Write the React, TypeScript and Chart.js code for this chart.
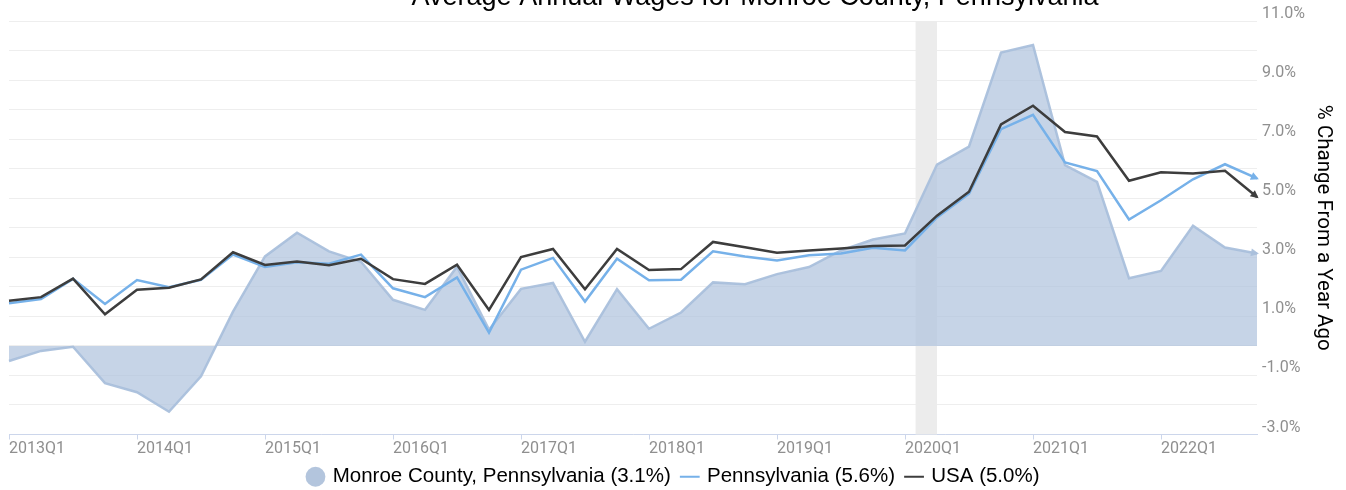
import React, { useEffect, useRef } from 'react';
import { Chart, registerables } from 'chart.js';

Chart.register(...registerables);

const chartTitle = 'Average Annual Wages for Monroe County, Pennsylvania';
const yAxisTitle = '% Change From a Year Ago';

const quarters = [
  '2013Q1', '2013Q2', '2013Q3', '2013Q4',
  '2014Q1', '2014Q2', '2014Q3', '2014Q4',
  '2015Q1', '2015Q2', '2015Q3', '2015Q4',
  '2016Q1', '2016Q2', '2016Q3', '2016Q4',
  '2017Q1', '2017Q2', '2017Q3', '2017Q4',
  '2018Q1', '2018Q2', '2018Q3', '2018Q4',
  '2019Q1', '2019Q2', '2019Q3', '2019Q4',
  '2020Q1', '2020Q2', '2020Q3', '2020Q4',
  '2021Q1', '2021Q2', '2021Q3', '2021Q4',
  '2022Q1', '2022Q2', '2022Q3', '2022Q4',
];

const monroe = [
  -0.51, -0.17, -0.03, -1.26, -1.57, -2.23, -1.03, 1.16,
  3.03, 3.83, 3.2, 2.85, 1.56, 1.22, 2.68, 0.55,
  1.93, 2.13, 0.14, 1.92, 0.58, 1.13, 2.15, 2.09,
  2.43, 2.67, 3.23, 3.6, 3.81, 6.14, 6.75, 9.93,
  10.19, 6.12, 5.55, 2.29, 2.54, 4.07, 3.33, 3.13,
];

const pennsylvania = [
  1.44, 1.59, 2.27, 1.42, 2.23, 1.99, 2.24, 3.09,
  2.67, 2.83, 2.78, 3.09, 1.95, 1.65, 2.32, 0.45,
  2.58, 2.98, 1.5, 2.95, 2.22, 2.24, 3.2, 3.03,
  2.89, 3.07, 3.13, 3.32, 3.23, 4.35, 5.15, 7.34,
  7.82, 6.21, 5.92, 4.28, 4.93, 5.64, 6.15, 5.67,
];

const usa = [
  1.53, 1.65, 2.28, 1.07, 1.9, 1.97, 2.25, 3.17,
  2.74, 2.86, 2.73, 2.95, 2.26, 2.1, 2.75, 1.22,
  3.01, 3.28, 1.92, 3.28, 2.57, 2.6, 3.52, 3.34,
  3.15, 3.23, 3.3, 3.38, 3.4, 4.41, 5.22, 7.5,
  8.13, 7.24, 7.09, 5.59, 5.88, 5.84, 5.93, 5.04,
];

const seriesLabels = [
  'Monroe County, Pennsylvania (3.1%)',
  'Pennsylvania (5.6%)',
  'USA (5.0%)',
];

// recession shading, in quarter-index units (Feb 2020 to Apr 2020)
const recessionSpan = [28.33, 29];

const yMin = -3;
const yMax = 11;
const yStep = 1;

const AREA_FILL = 'rgba(176,196,222,0.72)';
const AREA_LINE = 'rgba(170,192,220,0.95)';
const AREA_LEGEND = '#b3c5dd';
const PA_COLOR = '#76b1e9';
const USA_COLOR = '#3d3d3d';
const TICK_COLOR = '#8f8f8f';

const recessionPlugin = {
  id: 'recessionBand',
  beforeDatasetsDraw(chart: any) {
    const { ctx, chartArea, scales } = chart;
    const x0 = scales.x.getPixelForValue(recessionSpan[0]);
    const x1 = scales.x.getPixelForValue(recessionSpan[1]);
    ctx.save();
    ctx.fillStyle = '#ececec';
    ctx.fillRect(x0, chartArea.top, x1 - x0, chartArea.bottom - chartArea.top);
    ctx.restore();
  },
};

const arrowPlugin = {
  id: 'endArrows',
  afterDatasetsDraw(chart: any) {
    const { ctx } = chart;
    chart.data.datasets.forEach((ds: any, i: number) => {
      const meta = chart.getDatasetMeta(i);
      const pts = meta.data;
      if (pts.length < 2) return;
      const a = pts[pts.length - 2];
      const b = pts[pts.length - 1];
      const ang = Math.atan2(b.y - a.y, b.x - a.x);
      ctx.save();
      ctx.translate(b.x, b.y);
      ctx.rotate(ang);
      ctx.fillStyle = ds.arrowColor;
      ctx.beginPath();
      ctx.moveTo(2, 0);
      ctx.lineTo(-6, -4);
      ctx.lineTo(-6, 4);
      ctx.closePath();
      ctx.fill();
      ctx.restore();
    });
  },
};

const titlePlugin = {
  id: 'cutTitle',
  afterDraw(chart: any) {
    const { ctx } = chart;
    ctx.save();
    ctx.font = '27px "Liberation Sans", Arial, sans-serif';
    ctx.fillStyle = '#000';
    ctx.textAlign = 'center';
    ctx.textBaseline = 'alphabetic';
    ctx.fillText(chartTitle, 755, 5);
    ctx.restore();
  },
};

export default function App() {
  const canvasRef = useRef<HTMLCanvasElement | null>(null);

  useEffect(() => {
    if (!canvasRef.current) return;
    Chart.defaults.font.family = 'Roboto, sans-serif';
    const chart = new Chart(canvasRef.current, {
      type: 'line',
      data: {
        labels: quarters,
        datasets: [
          {
            label: seriesLabels[0],
            data: monroe,
            borderColor: AREA_LINE,
            backgroundColor: AREA_FILL,
            borderWidth: 2.5,
            fill: 'origin',
            pointRadius: 0,
            tension: 0,
            order: 3,
            arrowColor: AREA_LINE,
          } as any,
          {
            label: seriesLabels[1],
            data: pennsylvania,
            borderColor: PA_COLOR,
            backgroundColor: PA_COLOR,
            borderWidth: 2.5,
            fill: false,
            pointRadius: 0,
            tension: 0,
            order: 2,
            arrowColor: PA_COLOR,
          } as any,
          {
            label: seriesLabels[2],
            data: usa,
            borderColor: USA_COLOR,
            backgroundColor: USA_COLOR,
            borderWidth: 2.5,
            fill: false,
            pointRadius: 0,
            tension: 0,
            order: 1,
            arrowColor: USA_COLOR,
          } as any,
        ],
      },
      options: {
        animation: false,
        responsive: true,
        maintainAspectRatio: false,
        events: [],
        layout: { padding: { left: 9, right: 7, top: 21, bottom: -7 } },
        scales: {
          x: {
            type: 'category',
            offset: false,
            grid: {
              display: true,
              drawOnChartArea: false,
              drawTicks: true,
              tickLength: 5,
              tickColor: (ctx: any) =>
                quarters[ctx.index] && quarters[ctx.index].endsWith('Q1') ? '#ccd6eb' : 'rgba(0,0,0,0)',
            },
            border: { display: true, color: '#ccd6eb', width: 1 },
            ticks: {
              autoSkip: false,
              maxRotation: 0,
              minRotation: 0,
              align: 'start',
              padding: 0,
              color: TICK_COLOR,
              font: { family: 'Roboto, sans-serif', size: 16 },
              callback: (_v: any, idx: number) => (quarters[idx].endsWith('Q1') ? quarters[idx] : ''),
            },
            afterFit: (scale: any) => {
              scale.height = 20;
            },
          },
          y: {
            type: 'linear',
            position: 'right',
            min: yMin,
            max: yMax,
            grid: { color: '#eeeeee', drawTicks: false, lineWidth: 1 },
            border: { display: false },
            ticks: {
              stepSize: yStep,
              padding: 5,
              labelOffset: -7,
              color: TICK_COLOR,
              font: { family: 'Roboto, sans-serif', size: 16 },
              callback: (v: any) => (Math.round(v) % 2 !== 0 ? Number(v).toFixed(1) + '%' : ''),
            },
            title: {
              display: true,
              text: yAxisTitle,
              color: '#000',
              font: { family: 'Roboto, sans-serif', size: 20.5 },
              padding: 4,
            },
            afterFit: (scale: any) => {
              scale.width = 82;
            },
          },
        },
        plugins: {
          tooltip: { enabled: false },
          title: { display: false },
          legend: {
            display: true,
            position: 'bottom',
            labels: {
              usePointStyle: true,
              boxWidth: 14,
              boxHeight: 14,
              padding: 12,
              color: '#000',
              font: { family: '"Liberation Sans", Arial, sans-serif', size: 20.5 },
              generateLabels: (c: any) =>
                c.data.datasets.map((ds: any, i: number) => ({
                  text: ds.label,
                  fillStyle: i === 0 ? AREA_LEGEND : ds.borderColor,
                  strokeStyle: i === 0 ? AREA_LEGEND : ds.borderColor,
                  lineWidth: i === 0 ? 0 : 2,
                  pointStyle: i === 0 ? 'circle' : 'line',
                  hidden: false,
                  datasetIndex: i,
                  fontColor: '#000',
                })),
            },
          },
        },
      } as any,
      plugins: [recessionPlugin, arrowPlugin, titlePlugin],
    });
    return () => chart.destroy();
  }, []);

  return (
    <div style={{ position: 'absolute', left: 0, top: 0, width: 1346, height: 490 }}>
      <canvas ref={canvasRef} />
    </div>
  );
}
